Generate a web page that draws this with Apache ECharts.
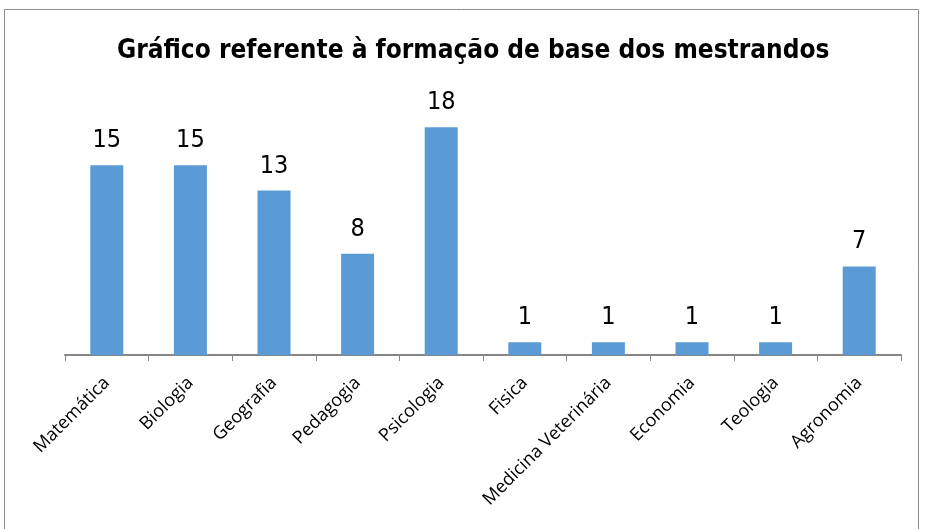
<!DOCTYPE html>
<html><head><meta charset="utf-8">
<script src="https://cdn.jsdelivr.net/npm/echarts@6/dist/echarts.min.js"></script>
<style>html,body{margin:0;padding:0;background:#fff}#c{width:925px;height:529px}</style>
</head><body><div id="c"></div>
<script>
const categories = ["Matemática","Biologia","Geografia","Pedagogia","Psicologia","Fisica","Medicina Veterinária","Economia","Teologia","Agronomia"];
const values = [15,15,13,8,18,1,1,1,1,7];
const titleText = "Gráfico referente à formação de base dos mestrandos";

const chart = echarts.init(document.getElementById('c'), null, {renderer:'canvas'});
chart.setOption({
  animation:false,
  backgroundColor:'#fff',
  graphic:[{type:'rect',shape:{x:4.5,y:9.5,width:914,height:530},style:{fill:'none',stroke:'#8c8c8c',lineWidth:1}}],
  title:{text:titleText,left:112,top:33,textStyle:{fontFamily:"'DejaVu Sans Condensed', 'Liberation Sans', sans-serif",fontWeight:'bold',fontSize:26,color:'#000'}},
  grid:{left:65,right:24,top:102,bottom:174,containLabel:false},
  xAxis:{type:'category',data:categories,
    axisLine:{lineStyle:{color:'#868686',width:2}},
    axisTick:{show:true,alignWithLabel:false,length:6,lineStyle:{color:'#868686',width:1}},
    axisLabel:{rotate:45,interval:0,fontFamily:'Open Sans',fontSize:18,color:'#000',margin:25}},
  yAxis:{type:'value',min:0,max:20,show:false,splitLine:{show:false}},
  series:[{type:'bar',data:values,barWidth:33,itemStyle:{color:'#5B9BD5'},
    label:{show:true,position:'top',distance:12,fontFamily:"'DejaVu Sans Condensed', Roboto, sans-serif",fontSize:25,color:'#000'}}]
});
</script></body></html>
